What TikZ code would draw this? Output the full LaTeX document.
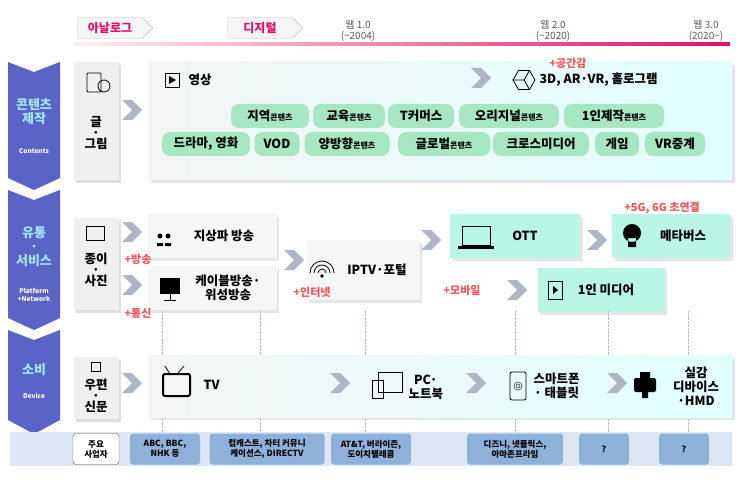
\documentclass[tikz,border=0pt]{standalone}
\usepackage{fontspec}
\setmainfont{Noto Sans CJK KR}
\usepackage{tikz}
\usetikzlibrary{positioning,calc,shapes.symbols,shapes.geometric,shadows}
\definecolor{ribbon}{HTML}{5A63C6}
\definecolor{pill}{HTML}{A6E6C2}
\definecolor{mint}{HTML}{B9F6E6}
\definecolor{plus}{HTML}{F2555A}
\definecolor{corp}{HTML}{8FB0D8}
\definecolor{band}{HTML}{DDE7F3}
\definecolor{era}{HTML}{E0106A}
\definecolor{sidetxt}{HTML}{9FE8F2}
\definecolor{chevgray}{HTML}{AEB6C6}
\newcommand{\sm}[1]{{\fontsize{8}{8}\selectfont #1}}
\begin{document}
\begin{tikzpicture}[x=1pt,y=-1pt,font=\fontsize{12.5}{14}\selectfont\bfseries]

\tikzstyle{erabox} = [signal, signal to=east, draw=gray!50, fill=gray!8, text=era, minimum width=75, minimum height=21, inner sep=2pt, font=\fontsize{12}{13}\selectfont\bfseries]
\tikzstyle{webtxt} = [align=center, text=gray!70!black, font=\fontsize{10}{10.5}\selectfont]
\tikzstyle{sidebox} = [fill=gray!12, drop shadow={opacity=0.25}, align=center, inner sep=2pt]
\tikzstyle{chev} = [signal, signal from=west, signal to=east, fill=chevgray, minimum width=15, minimum height=20, inner sep=0]
\tikzstyle{pillbox} = [fill=pill, rounded corners=8pt, minimum height=24, inner sep=2pt]
\tikzstyle{svcbox} = [fill=cyan!6!gray!8, drop shadow={opacity=0.2}, minimum height=44, inner sep=3pt]
\tikzstyle{mintbox} = [fill=mint, drop shadow={opacity=0.2}, minimum height=44, inner sep=3pt]
\tikzstyle{plustxt} = [text=plus, font=\fontsize{11}{12}\selectfont\bfseries]
\tikzstyle{corpbox} = [fill=corp, rounded corners=3pt, minimum height=31, inner sep=1pt, align=center, font=\fontsize{8.5}{10}\selectfont\bfseries]
\tikzstyle{leftlbl} = [text=sidetxt, align=center, font=\fontsize{13}{14}\selectfont\bfseries]
\tikzstyle{leftsub} = [text=white, align=center, font=\fontsize{6.5}{8}\selectfont\bfseries]
\tikzstyle{sidetext} = [align=center, font=\fontsize{12.5}{11}\selectfont\bfseries]

\useasboundingbox (0,0) rectangle (743,494);

% era header
\node[erabox] (ana) at (110,28) {아날로그};
\node[erabox] (dig) at (260,28) {디지털};
\node[webtxt] (w1) at (358,31) {웹 1.0\\(\textasciitilde2004)};
\node[webtxt] (w2) at (553,31) {웹 2.0\\(\textasciitilde2020)};
\node[webtxt] (w3) at (706,31) {웹 3.0\\(2020\textasciitilde)};
\shade[left color=pink!25, right color=era] (73,43) rectangle (730,46);

% left ribbon
\fill[ribbon] (8,62) -- (34,72) -- (60,62) -- (60,178) -- (34,190) -- (8,178) -- cycle;
\fill[ribbon] (8,190) -- (34,200) -- (60,190) -- (60,318) -- (34,330) -- (8,318) -- cycle;
\fill[ribbon] (8,330) -- (34,340) -- (60,330) -- (60,420) -- (34,434) -- (8,420) -- cycle;
\node[leftlbl] (l1) at (34,112) {콘텐츠\\제작};
\node[leftsub] (l1e) at (34,151) {Contents};
\node[leftlbl] (l2) at (34,247) {유통\\·\\서비스};
\node[leftsub] (l2e) at (34,295) {Platform\\+Network};
\node[leftlbl] (l3) at (34,370) {소비};
\node[leftsub] (l3e) at (34,396) {Device};

% row 1: contents
\node[sidebox, minimum width=45, minimum height=118] (geul) at (96,121) {};
\node[sidetext] (geult) at (96,133) {글\\·\\그림};
\draw[thick, rounded corners=1pt] (87,73) rectangle (101,92);
\draw[thick] (104,86) circle (6);
\node[chev] (c11) at (132,110) {};
\shade[left color=gray!8, right color=cyan!12, drop shadow={opacity=0.2}] (148,62) rectangle (732,180);
\draw[thick] (165,73) rectangle (179,87);
\fill (169,76) -- (176,80) -- (169,84) -- cycle;
\node[anchor=west] (vid) at (185,80) {영상};
\node[chev] (c12) at (481,78) {};
\node[regular polygon, regular polygon sides=6, draw, thick, minimum size=22, inner sep=0] (cube) at (524,80) {};
\draw[thick] (cube.corner 1) -- (cube.center) -- (cube.corner 3) (cube.center) -- (cube.corner 5);
\node[anchor=west] (xr) at (536,80) {3D, AR·VR, 홀로그램};
\node[plustxt] (p0) at (568,63) {+공간감};

\node[pillbox, minimum width=78] (pa) at (270,116) {지역\sm{콘텐츠}};
\node[pillbox, minimum width=72] (pb) at (349,116) {교육\sm{콘텐츠}};
\node[pillbox, minimum width=66] (pc) at (421,116) {T커머스};
\node[pillbox, minimum width=100] (pd) at (509,116) {오리지널\sm{콘텐츠}};
\node[pillbox, minimum width=100] (pe) at (614,116) {1인제작\sm{콘텐츠}};
\node[pillbox, minimum width=88] (pf) at (206,144) {드라마, 영화};
\node[pillbox, minimum width=45] (pg) at (277,144) {VOD};
\node[pillbox, minimum width=85] (ph) at (347,144) {양방향\sm{콘텐츠}};
\node[pillbox, minimum width=92] (pi) at (444,144) {글로벌\sm{콘텐츠}};
\node[pillbox, minimum width=96] (pj) at (541,144) {크로스미디어};
\node[pillbox, minimum width=44] (pk) at (617,144) {게임};
\node[pillbox, minimum width=60] (pl) at (675,144) {VR중계};

% row 2: services
\node[sidebox, minimum width=45, minimum height=92] (paper) at (96,264) {};
\draw[thick] (86,226) rectangle (104,240);
\node[sidetext] (papert) at (96,270) {종이\\·\\사진};
\node[chev] (c21) at (132,232) {};
\node[chev] (c22) at (132,285) {};
\node[svcbox, minimum width=129] (ter) at (212,236) {\hspace{24pt}지상파 방송};
\fill (160,236) circle (2.5) (168,236) circle (2.5);
\fill (157,243) rectangle (163,246) (165,243) rectangle (171,246);
\node[svcbox, minimum width=129] (cab) at (212,288) {};
\node[align=center] at (228,288) {케이블방송·\\위성방송};
\fill (160,278) rectangle (180,294);
\draw[thick] (170,294) -- (170,300) (164,300) -- (176,300);
\node[plustxt] (p1) at (138,259) {+방송};
\node[plustxt] (p2) at (138,313) {+통신};
\node[chev] (c23) at (294,260) {};
\node[svcbox, minimum width=113, minimum height=60] (iptv) at (363,270) {\hspace{28pt}IPTV·포털};
\foreach \r in {4,8,12} \draw[thick] ([shift={(\r,0)}]322,273) arc[start angle=0, end angle=180, radius=\r, y radius=-\r];
\fill (322,276) circle (1.8);
\node[plustxt] (p3) at (312,292) {+인터넷};
\node[chev] (c24) at (431,240) {};
\node[mintbox, minimum width=130] (ott) at (515,236) {\hspace{20pt}OTT};
\draw[thick] (462,226) rectangle (490,245);
\fill (458,246) rectangle (494,249);
\node[chev] (c25) at (597,240) {};
\node[mintbox, minimum width=118] (meta) at (671,236) {\hspace{24pt}메타버스};
\fill (632,233) circle (9) (628,238) rectangle (636,247);
\node[plustxt] (p4) at (662,208) {+5G, 6G 초연결};
\node[mintbox, minimum width=127] (one) at (601,290) {\hspace{10pt}1인 미디어};
\draw[thick] (548,281) rectangle (562,299);
\fill (553,286) -- (558,290) -- (553,294) -- cycle;
\node[plustxt] (p5) at (462,290) {+모바일};
\node[chev] (c26) at (517,290) {};

% dotted guides
\foreach \x in {162,260,365,515,608,688}
  \draw[densely dotted, blue!30] (\x,311) -- (\x,432);

% row 3: devices
\node[sidebox, minimum width=45, minimum height=62] (post) at (96,388) {};
\node[sidetext] (postt) at (96,396) {우편\\·\\신문};
\draw[thick] (91,362) rectangle (100,371);
\shade[left color=gray!8, right color=cyan!12, drop shadow={opacity=0.2}] (148,355) rectangle (732,417);
\node[chev] (c31) at (132,383) {};
\node[anchor=west] (tv) at (200,385) {TV};
\draw[line width=2pt, rounded corners=2pt] (163,374) rectangle (190,396);
\draw[thick] (170,374) -- (165,366) (177,374) -- (184,366);
\node[chev] (c32) at (340,383) {};
\draw[thick] (378,372) rectangle (402,392) (372,380) rectangle (383,398);
\node[align=center, anchor=west] (pc) at (405,387) {PC·\\노트북};
\node[chev] (c33) at (476,383) {};
\draw[thick, rounded corners=2pt] (510,372) rectangle (526,400);
\draw (518,386) circle (4) circle (2);
\node[align=center, anchor=west] (sp) at (530,386) {스마트폰\\· 태블릿};
\node[chev] (c34) at (617,383) {};
\fill[rounded corners=2pt] (634,378) rectangle (656,392);
\fill (640,372) rectangle (650,378) (642,392) rectangle (648,398);
\node[align=center] (hmd) at (696,386) {실감\\디바이스\\·HMD};

% bottom band
\fill[band] (10,432) rectangle (732,466);
\node[draw=gray!70!black, fill=white, rounded corners=3pt, minimum width=46, minimum height=31, align=center, font=\fontsize{8.5}{10}\selectfont\bfseries] (major) at (96,449) {주요\\사업자};
\node[corpbox, minimum width=70] (ca) at (165,449) {ABC, BBC,\\NHK 등};
\node[corpbox, minimum width=115] (cb) at (267,449) {컴캐스트, 차터 커뮤니\\케이션스, DIRECTV};
\node[corpbox, minimum width=80] (cc) at (371,449) {AT\&T, 버라이즌,\\도이치텔레콤};
\node[corpbox, minimum width=96] (cd) at (515,449) {디즈니, 넷플릭스,\\아마존프라임};
\node[corpbox, minimum width=50] (ce) at (604,449) {?};
\node[corpbox, minimum width=50] (cf) at (684,449) {?};

\end{tikzpicture}
\end{document}
